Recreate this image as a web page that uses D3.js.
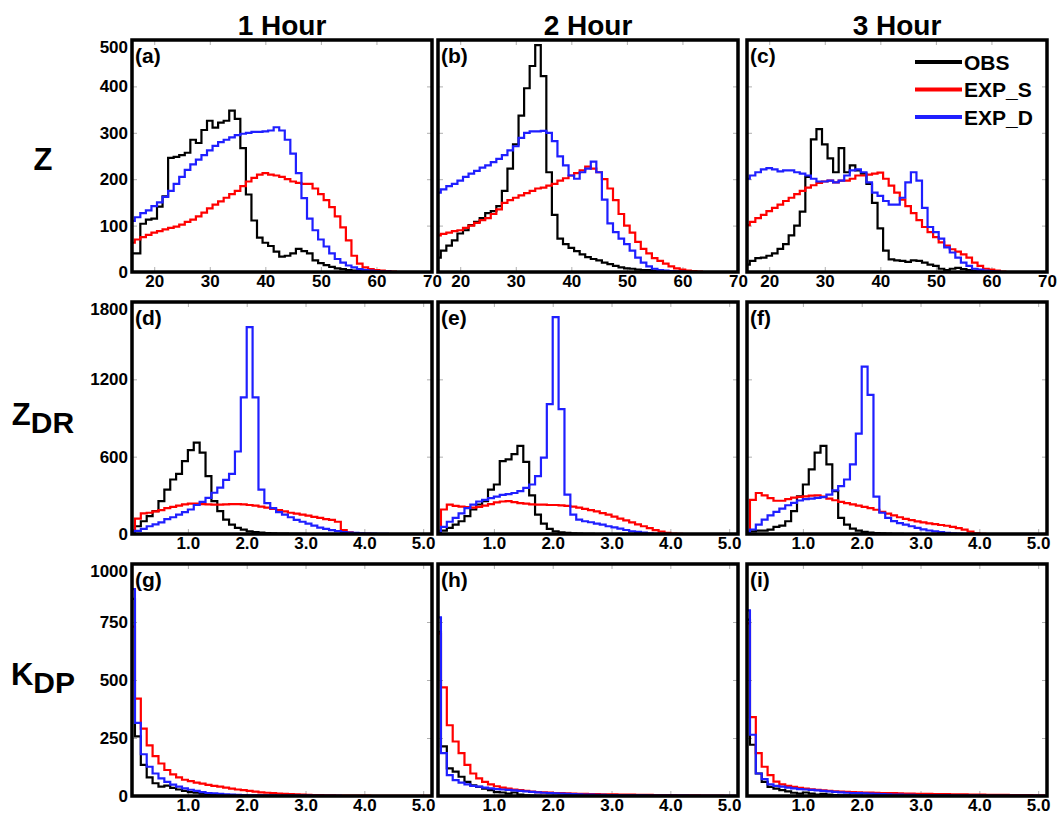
<!DOCTYPE html>
<html>
<head>
<meta charset="utf-8">
<script src="https://cdn.jsdelivr.net/npm/d3@7"></script>
<style>
  body { margin: 0; background: #fff; }
  svg text { font-family: "Liberation Sans", Arial, sans-serif; font-weight: bold; fill: #000; }
</style>
</head>
<body>
<svg id="chart" width="1057" height="816"></svg>
<script>
// ---- labels ----
const colTitles = ["1 Hour", "2 Hour", "3 Hour"];
const panelTags = ["(a)", "(b)", "(c)", "(d)", "(e)", "(f)", "(g)", "(h)", "(i)"];
const seriesNames = ["OBS", "EXP_S", "EXP_D"];
const seriesColors = ["#000000", "#ff0000", "#1f1fff"];

// ---- Z (dBZ), 1 dBZ bins centred on 16..70 ----
const zXTicks = [20, 30, 40, 50, 60, 70];
const zYTicks = [0, 100, 200, 300, 400, 500];
const zObsA  = [40,40,104,113,115,141,163,246,248,252,257,285,278,306,326,311,322,326,348,330,267,167,111,74,63,56,44,33,35,40,50,45,40,25,19,15,11,8,6,4,3,2,1,1,0,0,0,0,0,0,0,0,0,0,0];
const zExpSA = [63,70,75,80,85,88,92,95,98,102,108,113,120,128,137,145,152,160,168,175,185,195,203,210,213,210,208,205,200,195,192,190,190,180,168,155,140,120,96,68,35,18,10,6,4,3,2,1,0,0,0,0,0,0,0];
const zExpDA = [110,118,127,133,142,150,162,175,190,205,220,232,242,252,262,272,280,285,290,295,298,300,302,302,303,305,312,305,285,255,213,159,115,90,70,55,40,28,20,14,10,6,4,3,2,1,1,0,0,0,0,0,0,0,0];
const zObsB  = [31,46,57,68,83,90,101,108,116,127,131,142,175,223,275,337,396,444,489,422,215,123,72,60,52,45,38,32,28,25,20,17,13,10,8,7,5,4,4,3,3,2,2,1,1,0,0,0,0,0,0,0,0,0,0];
const zExpSB = [79,82,85,88,90,95,100,106,112,116,125,135,149,155,160,165,170,175,180,182,186,190,197,202,208,213,219,227,223,215,200,180,155,125,100,85,65,50,40,30,24,18,12,8,5,3,2,1,0,0,0,0,0,0,0];
const zExpDB = [171,178,185,190,197,205,212,218,225,230,237,244,252,262,271,289,300,303,303,304,300,282,249,230,208,201,215,223,238,215,156,105,86,72,60,46,31,20,12,7,4,3,2,1,1,0,0,0,0,0,0,0,0,0,0];
const zObsC  = [16,24,30,31,35,40,50,60,79,100,130,205,286,308,275,245,215,267,215,230,219,212,190,149,94,46,27,25,24,22,25,24,20,16,13,7,4,7,9,6,4,3,2,1,1,0,0,0,0,0,0,0,0,0,0];
const zExpSC = [101,108,116,123,131,138,145,153,160,168,175,182,187,192,195,197,193,197,197,201,208,208,210,212,214,201,186,171,156,142,127,112,97,86,75,64,57,49,44,38,31,20,13,7,5,3,1,0,0,0,0,0,0,0,0];
const zExpDC = [201,208,215,221,224,221,217,219,219,215,212,208,201,195,195,197,193,197,208,219,221,215,193,171,164,153,145,145,160,193,215,197,138,97,86,72,53,42,31,20,13,7,5,3,2,1,0,0,0,0,0,0,0,0,0];

// ---- ZDR (dB), 0.1 dB bins starting at 0.0 ----
const zdrXTicks = [1, 2, 3, 4, 5];
const zdrYTicks = [0, 600, 1200, 1800];
const zdrObsD  = [26,60,99,138,177,255,345,423,467,566,650,709,631,449,255,177,112,73,47,34,21,15,10,7,5,4,3,2,1,1,0,0,0,0,0,0,0,0,0,0,0,0,0,0,0,0,0,0,0,0,0,0];
const zdrExpSD = [25,120,160,165,175,185,200,210,220,230,235,235,232,230,228,228,230,232,232,230,225,220,212,205,195,185,175,165,158,150,142,133,125,115,110,95,30,12,5,2,1,0,0,0,0,0,0,0,0,0,0,0];
const zdrExpDD = [15,25,40,60,75,90,115,130,150,170,190,225,250,280,320,360,420,467,640,1060,1605,1060,345,240,200,170,150,130,110,95,80,65,50,40,30,22,15,11,8,6,4,3,2,1,0,0,0,0,0,0,0,0];
const zdrObsE  = [15,26,47,73,99,138,190,229,255,345,384,566,579,620,683,560,300,150,80,40,20,12,8,5,3,2,1,0,0,0,0,0,0,0,0,0,0,0,0,0,0,0,0,0,0,0,0,0,0,0,0,0];
const zdrExpSE = [25,190,228,218,212,208,205,210,220,232,245,252,255,248,240,235,230,228,228,225,225,222,218,212,205,195,185,175,162,150,135,120,105,90,75,60,45,30,18,8,3,1,0,0,0,0,0,0,0,0,0,0];
const zdrExpDE = [20,55,95,125,160,200,228,252,265,278,290,303,310,318,332,358,384,449,592,1008,1683,969,306,151,112,99,91,81,73,60,52,42,31,21,16,10,5,2,1,0,0,0,0,0,0,0,0,0,0,0,0,0];
const zdrObsF  = [12,20,26,26,34,55,65,99,177,293,384,501,631,683,540,332,125,73,42,26,16,10,7,5,3,2,1,0,0,0,0,0,0,0,0,0,0,0,0,0,0,0,0,0,0,0,0,0,0,0,0,0];
const zdrExpSF = [10,265,318,300,278,258,258,270,282,288,292,298,300,290,275,262,250,240,230,220,210,200,188,172,158,145,130,118,108,98,90,82,76,70,64,56,46,34,18,6,2,0,0,0,0,0,0,0,0,0,0,0];
const zdrExpDF = [16,35,73,112,145,171,197,223,241,260,270,275,280,286,306,338,371,423,540,779,1299,1080,290,165,125,100,85,72,60,48,36,27,20,14,9,6,3,1,0,0,0,0,0,0,0,0,0,0,0,0,0,0];

// ---- KDP (deg/km), 0.1 bins starting at 0.0 ----
const kdpXTicks = [1, 2, 3, 4, 5];
const kdpYTicks = [0, 250, 500, 750, 1000];
const kdpObsG  = [850,257,134,80,55,40,45,35,28,22,17,14,10,7,5,4,3,2,2,1,1,1,1,1,1,0,0,0,0,0,0,0,0,0,0,0,0,0,0,0,0,0,0,0,0,0,0,0,0,0,0,0];
const kdpExpSG = [730,420,290,218,172,140,112,93,80,70,64,58,53,48,44,40,36,32,28,25,22,19,16,14,12,10,9,8,7,6,5,4,4,3,3,2,2,2,2,2,2,1,1,1,1,1,1,1,1,1,1,0];
const kdpExpDG = [892,315,180,126,97,76,61,49,40,33,27,22,17,13,11,9,7,6,5,4,3,3,3,3,3,2,2,2,2,2,2,1,1,1,1,1,0,0,0,0,0,0,0,0,0,0,0,0,0,0,0,0];
const kdpObsH  = [708,214,119,105,83,61,46,39,32,25,17,15,10,15,6,3,2,1,0,0,0,0,0,0,0,0,0,0,0,0,0,0,0,0,0,0,0,0,0,0,0,0,0,0,0,0,0,0,0,0,0,0];
const kdpExpSH = [700,468,305,235,185,134,97,76,61,50,42,36,32,28,25,22,19,17,16,15,13,12,11,10,9,9,8,8,7,7,7,6,6,6,5,5,5,4,4,4,4,3,3,3,3,2,2,2,2,1,1,0];
const kdpExpDH = [770,185,90,68,58,50,44,40,36,33,30,28,26,24,22,20,18,16,14,12,11,10,9,8,7,6,6,5,5,4,4,3,3,3,3,3,2,2,2,2,2,2,2,1,1,1,1,1,1,1,1,0];
const kdpObsI  = [760,221,97,61,39,32,25,20,14,10,15,10,6,9,6,4,3,3,2,2,1,1,1,0,0,0,0,0,0,0,0,0,0,0,0,0,0,0,0,0,0,0,0,0,0,0,0,0,0,0,0,0];
const kdpExpSI = [744,340,185,126,90,62,50,44,39,35,32,29,26,24,22,20,19,18,17,16,15,15,14,13,12,12,11,10,10,9,9,9,8,8,8,7,7,7,6,6,6,5,5,5,5,4,4,4,4,3,3,0];
const kdpExpDI = [800,264,97,73,50,44,40,36,33,30,28,26,24,22,20,18,16,14,13,12,11,10,9,8,7,6,6,5,5,4,4,3,3,3,3,2,2,2,2,2,2,1,1,1,1,1,1,1,1,1,1,0];

// ---- layout ----
const W = 300, H = 232;
const colX = [132, 438, 747];
const rowY = [40, 302, 564];

const rows = [
  { xDomain: [16, 70], binStart: 15.5, binWidth: 1, xTicks: zXTicks, xFmt: d3.format("d"),
    yMax: 500, yTicks: zYTicks, label: ["Z", ""], labelY: 170,
    data: [[zObsA, zExpSA, zExpDA], [zObsB, zExpSB, zExpDB], [zObsC, zExpSC, zExpDC]] },
  { xDomain: [0.05, 5.15], binStart: 0, binWidth: 0.1, xTicks: zdrXTicks, xFmt: d3.format(".1f"),
    yMax: 1800, yTicks: zdrYTicks, label: ["Z", "DR"], labelY: 425,
    data: [[zdrObsD, zdrExpSD, zdrExpDD], [zdrObsE, zdrExpSE, zdrExpDE], [zdrObsF, zdrExpSF, zdrExpDF]] },
  { xDomain: [0.05, 5.15], binStart: 0, binWidth: 0.1, xTicks: kdpXTicks, xFmt: d3.format(".1f"),
    yMax: 1000, yTicks: kdpYTicks, label: ["K", "DP"], labelY: 685,
    data: [[kdpObsG, kdpExpSG, kdpExpDG], [kdpObsH, kdpExpSH, kdpExpDH], [kdpObsI, kdpExpSI, kdpExpDI]] }
];

const svg = d3.select("#chart");

// column titles
colTitles.forEach((t, c) => {
  svg.append("text")
    .attr("x", colX[c] + W / 2)
    .attr("y", 35)
    .attr("text-anchor", "middle")
    .style("font-size", "28px")
    .text(t);
});

// row labels
rows.forEach(r => {
  const t = svg.append("text")
    .attr("x", 43)
    .attr("y", r.labelY)
    .attr("text-anchor", "middle");
  t.append("tspan").style("font-size", "31px").text(r.label[0]);
  if (r.label[1]) t.append("tspan").attr("dy", 8).style("font-size", "30px").text(r.label[1]);
});

rows.forEach((r, ri) => {
  const x = d3.scaleLinear().domain(r.xDomain).range([0, W]);
  const y = d3.scaleLinear().domain([0, r.yMax]).range([H, 0]);

  const line = d3.line()
    .x(d => x(d[0]))
    .y(d => y(d[1]))
    .curve(d3.curveStepAfter);

  r.data.forEach((panelSeries, ci) => {
    const g = svg.append("g").attr("transform", `translate(${colX[ci]},${rowY[ri]})`);
    const clipId = `clip-${ri}-${ci}`;
    g.append("clipPath").attr("id", clipId)
      .append("rect").attr("width", W).attr("height", H);

    // faint inner ticks
    const tickColor = "#b0b0b0";
    const inner = [
      g.append("g").call(d3.axisTop(x).tickValues(r.xTicks).tickSize(-5).tickFormat("")),
      g.append("g").attr("transform", `translate(0,${H})`).call(d3.axisBottom(x).tickValues(r.xTicks).tickSize(-5).tickFormat("")),
      g.append("g").call(d3.axisLeft(y).tickValues(r.yTicks).tickSize(-5).tickFormat("")),
      g.append("g").attr("transform", `translate(${W},0)`).call(d3.axisRight(y).tickValues(r.yTicks).tickSize(-5).tickFormat(""))
    ];
    inner.forEach(a => {
      a.select(".domain").remove();
      a.selectAll("line").attr("stroke", tickColor).attr("stroke-width", 1);
    });

    // step histograms
    const plot = g.append("g").attr("clip-path", `url(#${clipId})`);
    panelSeries.forEach((vals, si) => {
      const pts = vals.map((v, i) => [r.binStart + i * r.binWidth, v]);
      pts.push([r.binStart + vals.length * r.binWidth, vals[vals.length - 1]]);
      plot.append("path")
        .datum(pts)
        .attr("d", line)
        .attr("fill", "none")
        .attr("stroke", seriesColors[si])
        .attr("stroke-width", 2.2)
        .attr("stroke-linejoin", "miter");
    });

    // frame
    g.append("rect")
      .attr("width", W).attr("height", H)
      .attr("fill", "none")
      .attr("stroke", "#000")
      .attr("stroke-width", 3.5);

    // x tick labels
    const xa = g.append("g")
      .attr("transform", `translate(0,${H})`)
      .call(d3.axisBottom(x).tickValues(r.xTicks).tickSize(0).tickPadding(3).tickFormat(r.xFmt));
    xa.select(".domain").remove();
    xa.selectAll("text").style("font-size", "17px").attr("fill", "#000");

    // y tick labels on first column only
    if (ci === 0) {
      const ya = g.append("g")
        .call(d3.axisLeft(y).tickValues(r.yTicks).tickSize(0).tickPadding(4).tickFormat(d3.format("d")));
      ya.select(".domain").remove();
      ya.selectAll("text").style("font-size", "17px").attr("fill", "#000");
      ya.selectAll(".tick").filter(d => d === r.yMax).select("text").attr("y", 7);
    }

    // panel tag
    g.append("text")
      .attr("x", 3)
      .attr("y", 23)
      .style("font-size", "21px")
      .text(panelTags[ri * 3 + ci]);

    // legend in panel (c)
    if (ri === 0 && ci === 2) {
      const lg = g.append("g").attr("transform", "translate(168,22)");
      seriesNames.forEach((name, si) => {
        const row = lg.append("g").attr("transform", `translate(0,${si * 27.5})`);
        row.append("line")
          .attr("x1", 0).attr("x2", 47)
          .attr("stroke", seriesColors[si])
          .attr("stroke-width", 4);
        row.append("text")
          .attr("x", 49)
          .attr("y", 7.5)
          .style("font-size", "21px")
          .text(name);
      });
    }
  });
});
</script>
</body>
</html>
